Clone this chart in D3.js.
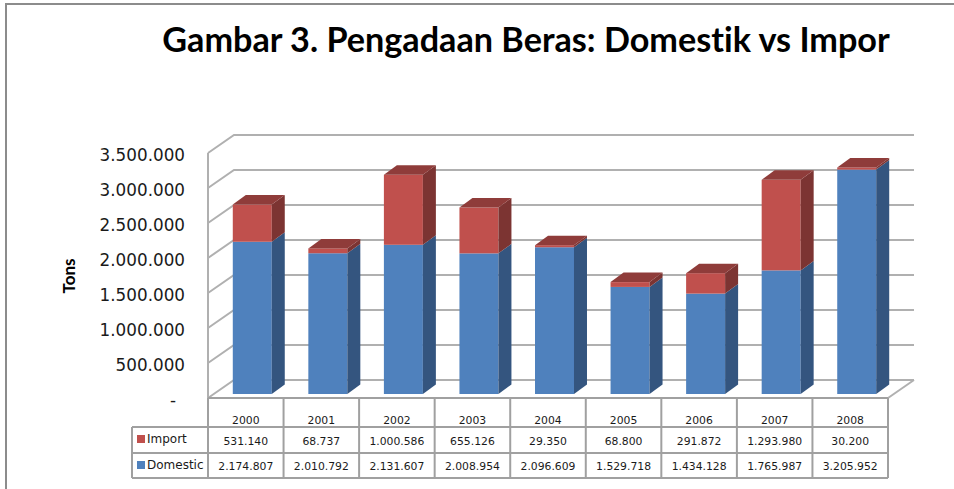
<!DOCTYPE html>
<html>
<head>
<meta charset="utf-8">
<script src="https://cdn.jsdelivr.net/npm/d3@7"></script>
<style>
  html, body { margin: 0; padding: 0; background: #fff; }
  svg { display: block; }
  text { font-family: 'DejaVu Sans', sans-serif; fill: #1a1a1a; }
</style>
</head>
<body>
<svg id="chart" width="954" height="489"></svg>
<script>
const years = ['2000', '2001', '2002', '2003', '2004', '2005', '2006', '2007', '2008']
const importTons = [531140, 68737, 1000586, 655126, 29350, 68800, 291872, 1293980, 30200]
const domesticTons = [2174807, 2010792, 2131607, 2008954, 2096609, 1529718, 1434128, 1765987, 3205952]
const yTicks = [0, 500000, 1000000, 1500000, 2000000, 2500000, 3000000, 3500000]
const titleText = 'Gambar 3. Pengadaan Beras: Domestik vs Impor'
const seriesNames = ['Import', 'Domestic']

const svg = d3.select('#chart')
const locale = d3.formatLocale({decimal: ',', thousands: '.', grouping: [3], currency: ['', '']})
const fmt = locale.format(',d')

// front plane of the pseudo 3d box, the back wall is shifted by depth
const plot = {left: 208, right: 888, top: 153, bottom: 398}
const depth = {dx: 26, dy: -18}
const barDepth = {dx: 13, dy: -9.5}
const barLift = -4

// bars sit a little right of the table columns because of the depth
const x = d3.scaleBand().domain(years).range([plot.left + 6.5, plot.right + 6.5]).paddingInner(0.484).paddingOuter(0.242)
const y = d3.scaleLinear().domain([0, 3500000]).range([plot.bottom, plot.top])
const cols = d3.scaleBand().domain(years).range([plot.left, plot.right])

// outer frame
svg.append('path')
  .attr('d', 'M6,489V4H954')
  .attr('fill', 'none')
  .attr('stroke', '#8c8c8c')
  .attr('stroke-width', 2)

svg.append('text')
  .attr('x', 526)
  .attr('y', 52)
  .attr('text-anchor', 'middle')
  .attr('font-size', 34.2)
  .attr('font-weight', 'bold')
  .style('font-family', "Lato, sans-serif")
  .style('font-variant-ligatures', 'none')
  .style('fill', '#000')
  .text(titleText)

svg.append('text')
  .attr('transform', 'translate(75, 276) rotate(-90)')
  .attr('text-anchor', 'middle')
  .attr('font-size', 17)
  .attr('font-weight', 'bold')
  .style('font-family', "Lato, sans-serif")
  .style('fill', '#000')
  .text('Tons')

// walls and gridlines
const grid = svg.append('g').attr('fill', 'none').attr('stroke', '#b0b0b0').attr('stroke-width', 2)
grid.selectAll('.grid')
  .data(yTicks)
  .enter()
  .append('path')
  .attr('class', 'grid')
  .attr('d', (d) => `M${plot.left},${y(d)}L${plot.left + depth.dx},${y(d) + depth.dy}H${plot.right + depth.dx}`)
grid.append('path').attr('d', `M${plot.left},${plot.top}V${plot.bottom}`)
grid.append('path').attr('d', `M${plot.right},${plot.bottom}L${plot.right + depth.dx},${plot.bottom + depth.dy}`)

// y axis labels
const axis = svg.append('g')
  .attr('transform', 'translate(185, 2)')
  .call(d3.axisLeft(y).tickValues(yTicks).tickSize(0).tickPadding(0).tickFormat((d) => d === 0 ? '-' : fmt(d)))
axis.select('.domain').remove()
axis.selectAll('text').attr('font-size', 16.8).style('font-family', "'DejaVu Sans', sans-serif").style('fill', '#1a1a1a')
axis.selectAll('.tick').filter((d) => d === 0).select('text').attr('x', -9)

// bars
const stackRows = years.map((year, i) => ({year, Domestic: domesticTons[i], Import: importTons[i]}))
const stacked = d3.stack().keys(['Domestic', 'Import'])(stackRows)
const colors = {
  Domestic: {front: '#4f81bd', side: '#34557f', top: '#3f6797'},
  Import: {front: '#c0504d', side: '#7c3432', top: '#8f3c3a'},
}

const bars = svg.append('g')
years.forEach((year, i) => {
  const bar = bars.append('g')
  const x0 = x(year)
  const x1 = x0 + x.bandwidth()
  stacked.forEach((layer) => {
    const c = colors[layer.key]
    const [v0, v1] = layer[i]
    const yTop = y(v1) + barLift
    const yBot = y(v0) + barLift
    bar.append('rect')
      .attr('x', x0)
      .attr('y', yTop)
      .attr('width', x.bandwidth())
      .attr('height', yBot - yTop)
      .attr('fill', c.front)
    bar.append('path')
      .attr('d', `M${x1},${yBot}V${yTop}l${barDepth.dx},${barDepth.dy}V${yBot + barDepth.dy}Z`)
      .attr('fill', c.side)
    if (layer.key === 'Import') {
      bar.append('path')
        .attr('d', `M${x0},${yTop}H${x1}l${barDepth.dx},${barDepth.dy}H${x0 + barDepth.dx}Z`)
        .attr('fill', c.top)
    }
  })
})

// data table under the plot
const rowLines = [398, 427, 453, 478]
const legendLeft = 132
const table = svg.append('g').attr('fill', 'none').attr('stroke', '#a0a0a0').attr('stroke-width', 2)
table.append('path').attr('d', `M${plot.left},${rowLines[0]}H${plot.right}`)
table.append('path').attr('d', `M${legendLeft},${rowLines[1]}H${plot.right}`)
table.append('path').attr('d', `M${legendLeft},${rowLines[2]}H${plot.right}`)
table.append('path').attr('d', `M${legendLeft},${rowLines[3]}H${plot.right}`)
table.append('path').attr('d', `M${legendLeft},${rowLines[1]}V${rowLines[3]}`)
table.append('path').attr('d', `M${plot.left},${rowLines[0]}V${rowLines[3]}`)
table.selectAll('.col')
  .data(years)
  .enter()
  .append('path')
  .attr('class', 'col')
  .attr('d', (d) => `M${cols(d) + cols.bandwidth()},${rowLines[0]}V${rowLines[3]}`)

const cellText = svg.append('g').attr('font-size', 10.8).attr('text-anchor', 'middle')
const center = (d) => cols(d) + cols.bandwidth() / 2
cellText.selectAll('.yr').data(years).enter().append('text')
  .attr('x', center).attr('y', 424).text((d) => d)
cellText.selectAll('.imp').data(years).enter().append('text')
  .attr('x', center).attr('y', 445).text((d, i) => fmt(importTons[i]))
cellText.selectAll('.dom').data(years).enter().append('text')
  .attr('x', center).attr('y', 470).text((d, i) => fmt(domesticTons[i]))

const legend = svg.append('g')
seriesNames.forEach((name, i) => {
  const ly = [439, 465][i]
  legend.append('rect')
    .attr('x', 137).attr('y', ly - 4).attr('width', 8).attr('height', 8)
    .attr('fill', colors[name].front)
  legend.append('text')
    .attr('x', 147).attr('y', ly + 3.5)
    .attr('font-size', 12)
    .text(name)
})
</script>
</body>
</html>
